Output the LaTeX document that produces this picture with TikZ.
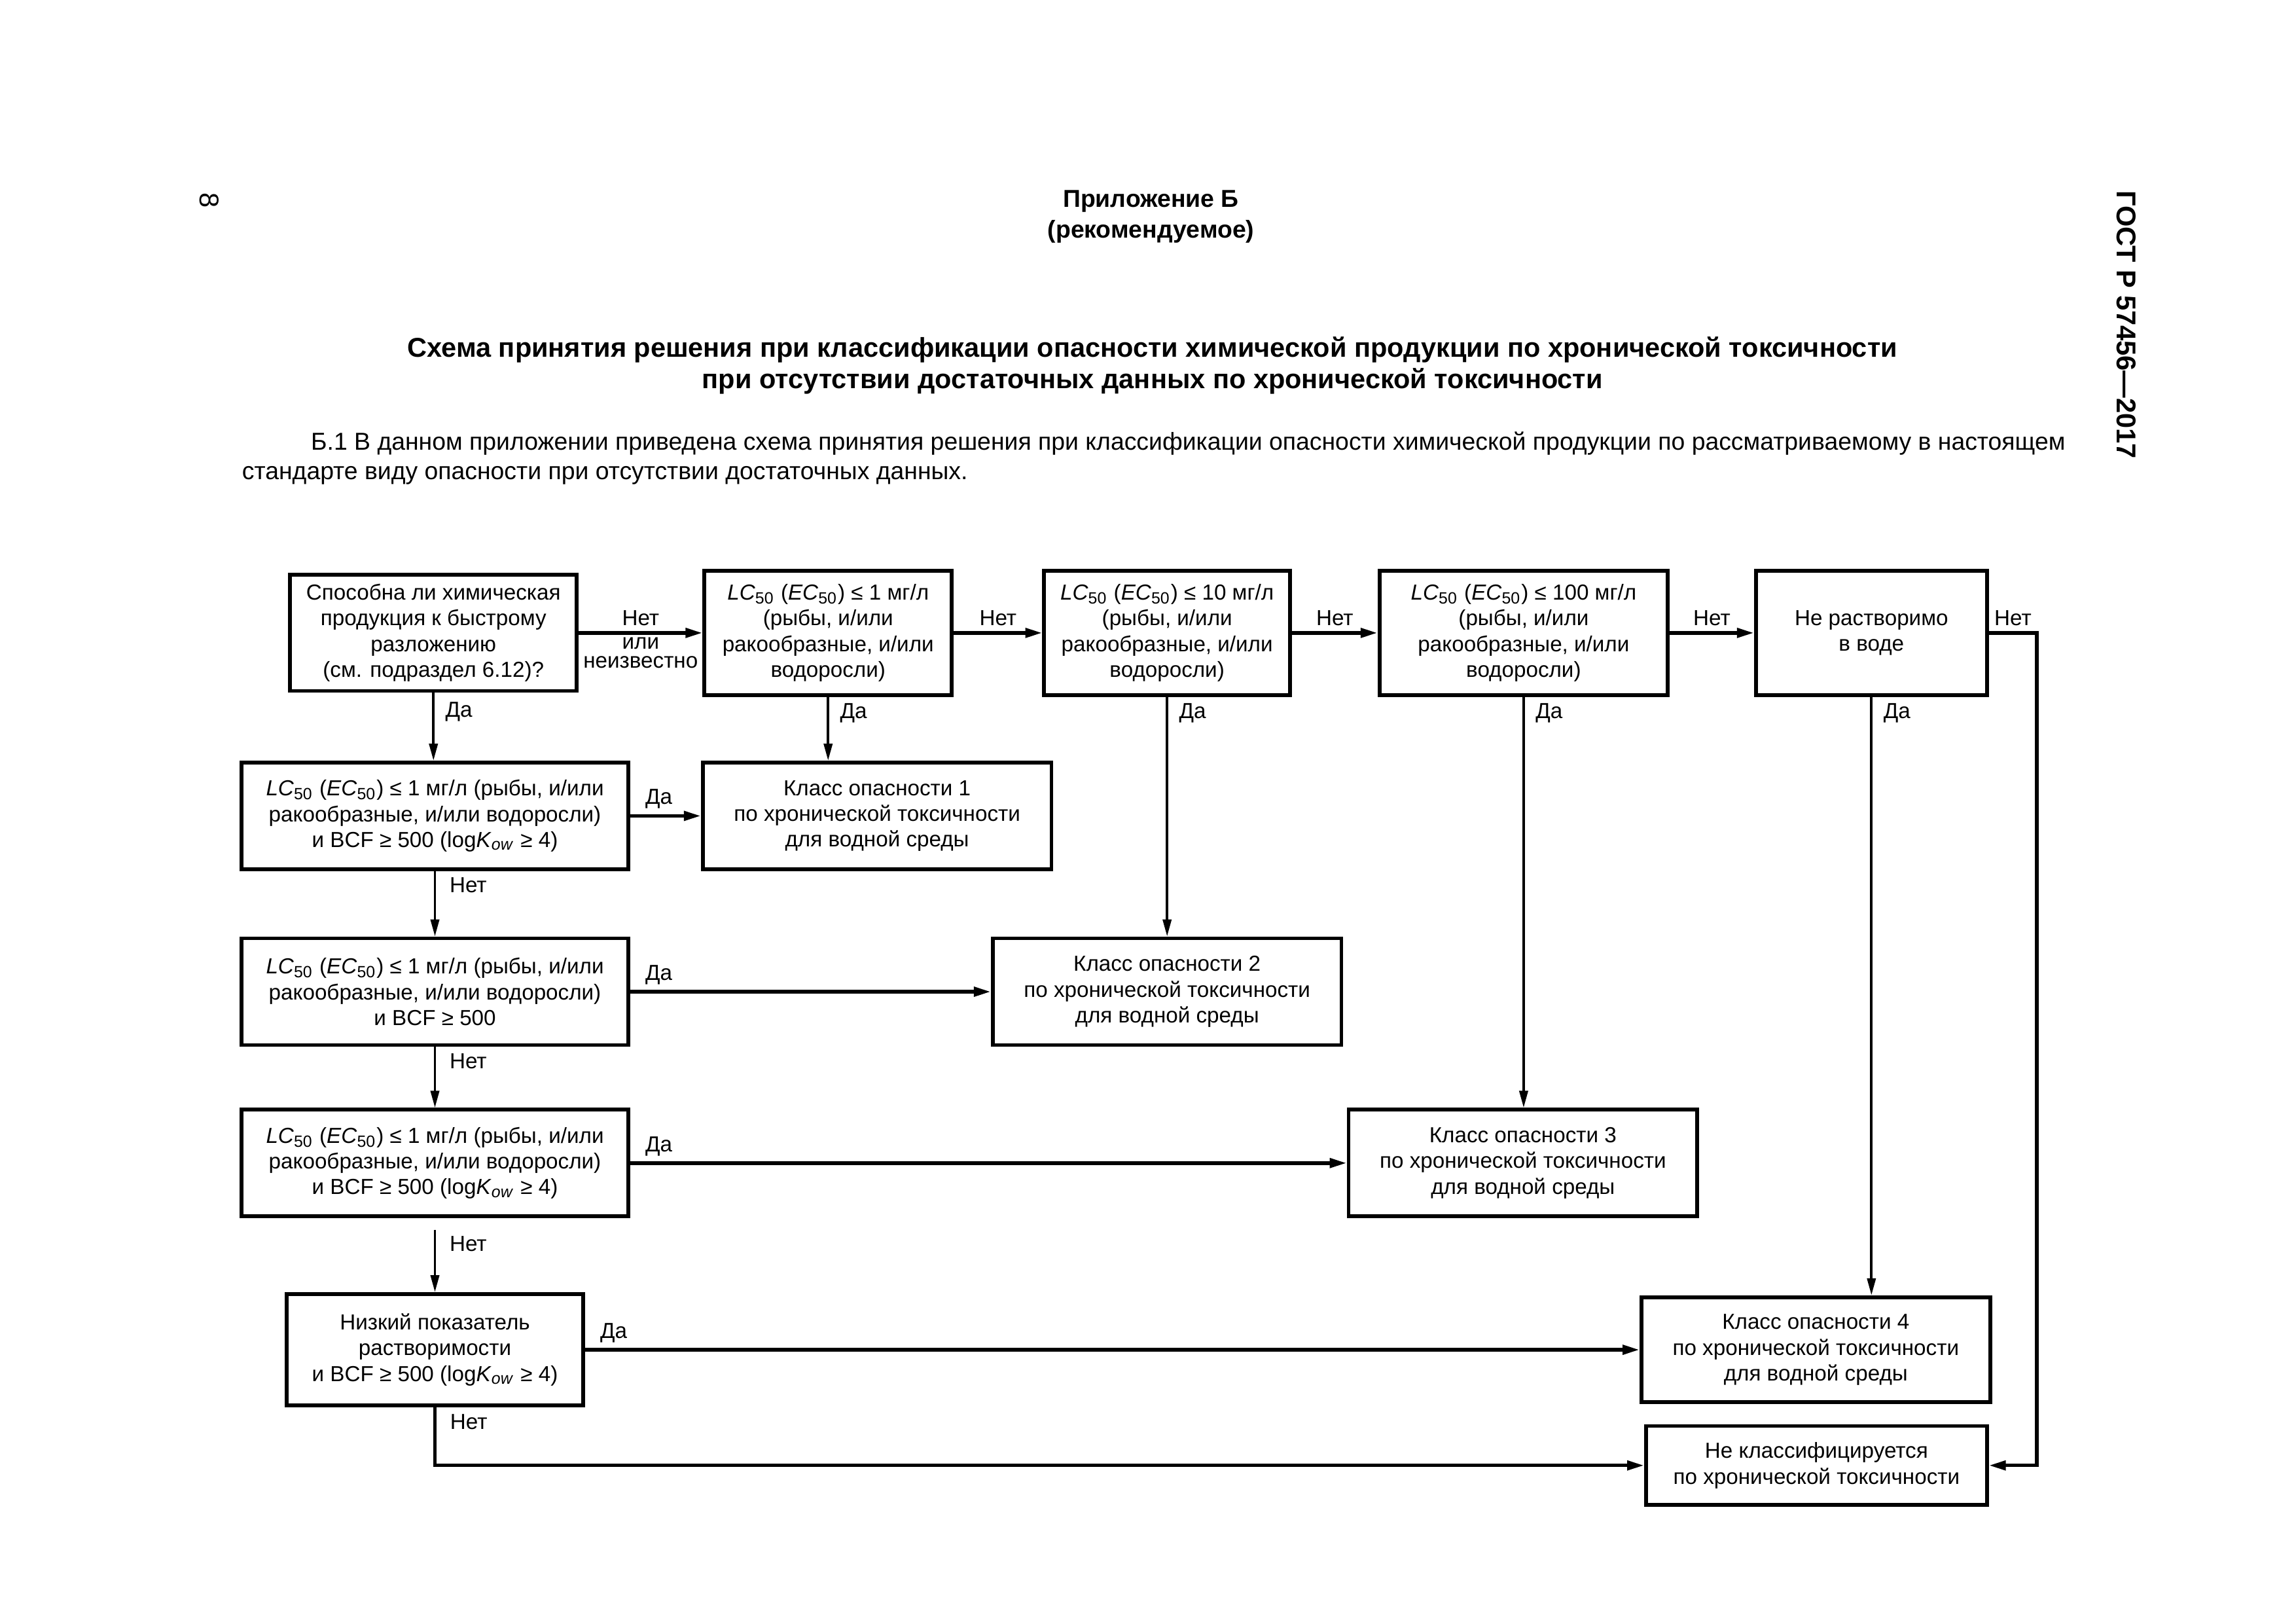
\documentclass[tikz,border=0pt]{standalone}
\usepackage{fontspec}
\setmainfont{Liberation Sans}
\usetikzlibrary{arrows.meta}

\newcommand{\lcec}{\textit{LC}\textsubscript{50} (\textit{EC}\textsubscript{50})}
\newcommand{\kow}{log\textit{K}\textsubscript{\textit{ow}}}

\begin{document}
\begin{tikzpicture}[
  box/.style={shape=rectangle,draw=black,align=center,line width=1.4pt,inner sep=1pt,font=\fontsize{8}{9.5}\selectfont},
  lbl/.style={font=\fontsize{8}{9.5}\selectfont,inner sep=2pt},
  hl/.style={-{Triangle[length=2.2mm,width=1.2mm]},line width=1.3pt},
  vl/.style={-{Triangle[length=2.2mm,width=1.1mm]},line width=0.9pt}]
\useasboundingbox (0,0) rectangle (29.7,21.0);

\node[rotate=-90,font=\fontsize{10}{12}\selectfont] (15) at (2.709,18.412) {8};
\node[align=center,font=\fontsize{9}{11.3}\selectfont\bfseries] (16) at (14.888,18.194) {Приложение Б\\(рекомендуемое)};
\node[align=center,font=\fontsize{10}{11.6}\selectfont\bfseries] (17) at (14.907,16.271) {Схема принятия решения при классификации опасности химической продукции по хронической токсичности\\при отсутствии достаточных данных по хронической токсичности};
\node[anchor=west,inner sep=0,font=\fontsize{9}{12}\selectfont] (18) at (4.016,15.267) {\makebox[22.69cm][s]{Б.1 В данном приложении приведена схема принятия решения при классификации опасности химической продукции по рассматриваемому в настоящем}};
\node[anchor=west,inner sep=0,font=\fontsize{9}{12}\selectfont] (19) at (3.125,14.851) {стандарте виду опасности при отсутствии достаточных данных.};
\node[rotate=-90,font=\fontsize{10}{12}\selectfont\bfseries] (20) at (27.504,16.802) {ГОСТ Р 57456—2017};

\node[box,minimum width=3.71cm,minimum height=1.50cm] (0) at (5.607,12.814) {Способна ли химическая\\продукция к быстрому\\разложению\\(см. подраздел 6.12)?};
\node[box,minimum width=3.20cm,minimum height=1.61cm] (1) at (10.712,12.814) {\lcec{} ≤ 1 мг/л\\(рыбы, и/или\\ракообразные, и/или\\водоросли)};
\node[box,minimum width=3.18cm,minimum height=1.61cm] (2) at (15.097,12.814) {\lcec{} ≤ 10 мг/л\\(рыбы, и/или\\ракообразные, и/или\\водоросли)};
\node[box,minimum width=3.73cm,minimum height=1.61cm] (3) at (19.709,12.814) {\lcec{} ≤ 100 мг/л\\(рыбы, и/или\\ракообразные, и/или\\водоросли)};
\node[box,minimum width=2.99cm,minimum height=1.61cm] (4) at (24.208,12.814) {Не растворимо\\в воде};
\node[box,minimum width=5.00cm,minimum height=1.38cm] (5) at (5.626,10.447) {\lcec{} ≤ 1 мг/л (рыбы, и/или\\ракообразные, и/или водоросли)\\и BCF ≥ 500 (\kow{} ≥ 4)};
\node[box,minimum width=4.51cm,minimum height=1.38cm] (6) at (11.346,10.447) {Класс опасности 1\\по хронической токсичности\\для водной среды};
\node[box,minimum width=5.00cm,minimum height=1.38cm] (7) at (5.626,8.173) {\lcec{} ≤ 1 мг/л (рыбы, и/или\\ракообразные, и/или водоросли)\\и BCF ≥ 500};
\node[box,minimum width=4.51cm,minimum height=1.38cm] (8) at (15.097,8.173) {Класс опасности 2\\по хронической токсичности\\для водной среды};
\node[box,minimum width=5.00cm,minimum height=1.38cm] (9) at (5.626,5.957) {\lcec{} ≤ 1 мг/л (рыбы, и/или\\ракообразные, и/или водоросли)\\и BCF ≥ 500 (\kow{} ≥ 4)};
\node[box,minimum width=4.51cm,minimum height=1.38cm] (10) at (19.700,5.957) {Класс опасности 3\\по хронической токсичности\\для водной среды};
\node[box,minimum width=3.83cm,minimum height=1.44cm] (11) at (5.626,3.542) {Низкий показатель\\растворимости\\и BCF ≥ 500 (\kow{} ≥ 4)};
\node[box,minimum width=4.51cm,minimum height=1.36cm] (12) at (23.488,3.542) {Класс опасности 4\\по хронической токсичности\\для водной среды};
\node[box,minimum width=4.41cm,minimum height=1.02cm] (13) at (23.497,2.046) {Не классифицируется\\по хронической токсичности};
\coordinate (14) at (26.348,12.814);

\draw[hl] (0) -- node[lbl,above] {Нет} node[lbl,below,align=center,font=\fontsize{8}{7}\selectfont,inner sep=1pt] {или\\неизвестно} (1);
\draw[hl] (1) -- node[lbl,above] {Нет} (2);
\draw[hl] (2) -- node[lbl,above] {Нет} (3);
\draw[hl] (3) -- node[lbl,above] {Нет} (4);
\draw[hl] (4.east) -- node[lbl,above] {Нет} (14) |- (13.east);

\draw[vl] (0.south) -- node[lbl,pos=0,anchor=north west,xshift=2pt,yshift=-1pt] {Да} (0.south |- 5.north);
\draw[vl] (1.south) -- node[lbl,pos=0,anchor=north west,xshift=2pt] {Да} (1.south |- 6.north);
\draw[vl] (2.south) -- node[lbl,pos=0,anchor=north west,xshift=2pt] {Да} (2.south |- 8.north);
\draw[vl] (3.south) -- node[lbl,pos=0,anchor=north west,xshift=2pt] {Да} (3.south |- 10.north);
\draw[vl] (4.south) -- node[lbl,pos=0,anchor=north west,xshift=2pt] {Да} (4.south |- 12.north);

\draw[vl] (5) -- node[lbl,pos=0,anchor=north west,xshift=3pt] {Нет} (7);
\draw[vl] (7) -- node[lbl,pos=0,anchor=north west,xshift=3pt] {Нет} (9);
\draw[vl,shorten <=1.5mm] (9) -- node[lbl,pos=0,anchor=north west,xshift=3pt,yshift=-1.5mm] {Нет} (11);
\draw[hl] (11) |- node[lbl,pos=0,anchor=north west,xshift=3pt] {Нет} (13.west);

\draw[hl] (5) -- node[lbl,pos=0,anchor=south west,xshift=3pt] {Да} (6);
\draw[hl] (7) -- node[lbl,pos=0,anchor=south west,xshift=3pt] {Да} (8);
\draw[hl] (9) -- node[lbl,pos=0,anchor=south west,xshift=3pt] {Да} (10);
\draw[hl] (11) -- node[lbl,pos=0,anchor=south west,xshift=3pt] {Да} (12);
\end{tikzpicture}
\end{document}
